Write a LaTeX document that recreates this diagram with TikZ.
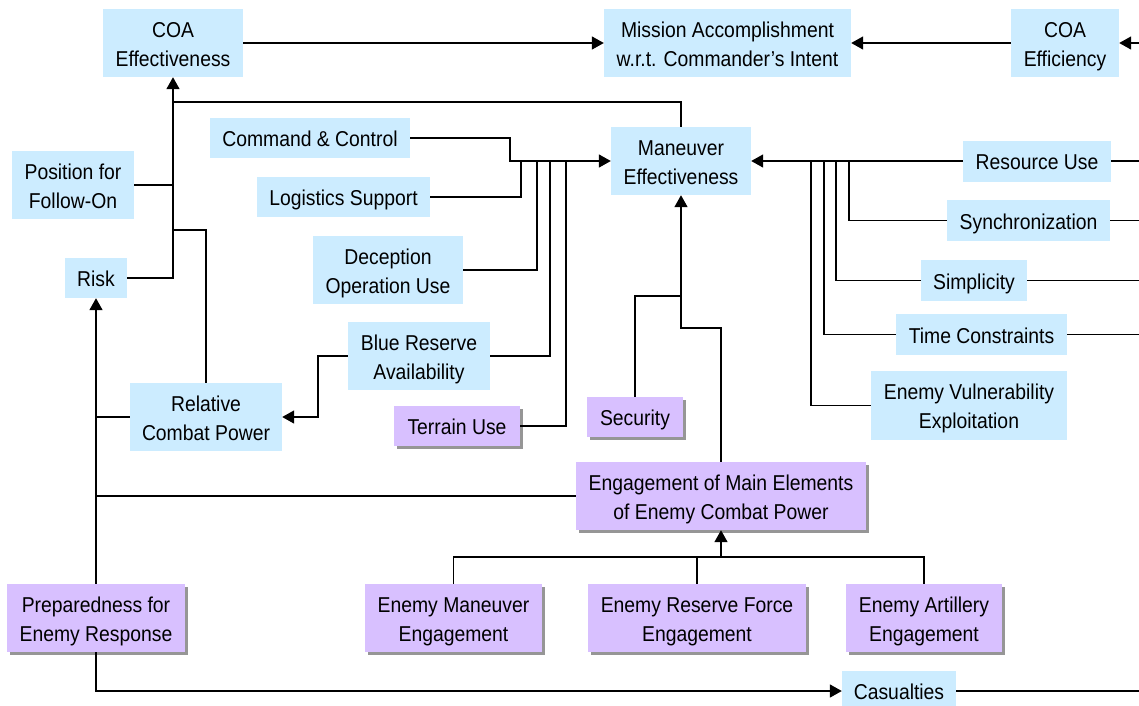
\documentclass[tikz,border=0pt]{standalone}
\usepackage{fontspec}
\setmainfont{Liberation Sans}[FakeStretch=0.9]
\usetikzlibrary{arrows.meta,calc}
\definecolor{bluefill}{RGB}{204,236,255}
\definecolor{purpfill}{RGB}{216,192,255}
\definecolor{shadowgray}{RGB}{150,150,150}
\tikzset{
  box/.style={inner sep=0pt, align=center, text depth=0pt,
    font=\fontsize{21.5}{29}\selectfont},
  one/.style={text height=17.5pt},
  two/.style={text height=46.5pt},
  bluebox/.style={box, fill=bluefill},
  purpbox/.style={box, fill=purpfill},
  shadowbox/.style={fill=shadowgray},
  conn/.style={line width=1.6pt, line join=miter},
  arr/.style={conn, -{Triangle[length=12pt,width=13pt]}},
}
\newcommand{\pbox}[7]{% name, x, y, w, h, lines style, text
  \fill[shadowbox] (#2-#4/2+3,#3-#5/2+3) rectangle (#2+#4/2+3,#3+#5/2+3);
  \node[purpbox, #6, minimum width=#4pt, minimum height=#5pt] (#1) at (#2,#3) {#7};
}
\begin{document}
\begin{tikzpicture}[x=1pt,y=-1pt]
\useasboundingbox (0,0) rectangle (1139,705);
% blue nodes
\node[bluebox, two, minimum width=140pt, minimum height=68pt] (coaeff) at (173,43) {COA\\Effectiveness};
\node[bluebox, two, minimum width=247pt, minimum height=68pt] (mission) at (727.5,43) {Mission Accomplishment\\w.r.t. Commander’s Intent};
\node[bluebox, two, minimum width=108pt, minimum height=68pt] (coaeffi) at (1065,43) {COA\\Efficiency};
\node[bluebox, one, minimum width=200pt, minimum height=40pt] (cc) at (310,138) {Command \& Control};
\node[bluebox, one, minimum width=173pt, minimum height=40pt] (log) at (343.5,197) {Logistics Support};
\node[bluebox, two, minimum width=150pt, minimum height=68pt] (dec) at (388,270) {Deception\\Operation Use};
\node[bluebox, two, minimum width=122pt, minimum height=68pt] (pos) at (73,185) {Position for\\Follow-On};
\node[bluebox, one, minimum width=62pt, minimum height=40pt] (risk) at (96,278) {Risk};
\node[bluebox, two, minimum width=140pt, minimum height=68pt] (man) at (681,161) {Maneuver\\Effectiveness};
\node[bluebox, one, minimum width=148pt, minimum height=41pt] (res) at (1037,161) {Resource Use};
\node[bluebox, one, minimum width=163pt, minimum height=41pt] (sync) at (1028.5,220.5) {Synchronization};
\node[bluebox, one, minimum width=106pt, minimum height=41pt] (simp) at (974,280.5) {Simplicity};
\node[bluebox, one, minimum width=171pt, minimum height=41pt] (time) at (981.5,334.5) {Time Constraints};
\node[bluebox, two, minimum width=196pt, minimum height=69pt] (vuln) at (969,405.5) {Enemy Vulnerability\\Exploitation};
\node[bluebox, two, minimum width=142pt, minimum height=68pt] (blue) at (419,356) {Blue Reserve\\Availability};
\node[bluebox, two, minimum width=152pt, minimum height=68pt] (rcp) at (206,417) {Relative\\Combat Power};
\node[bluebox, one, minimum width=114pt, minimum height=40pt] (cas) at (899,691) {Casualties};
% purple nodes with shadow
\pbox{terrain}{457}{426}{126}{40}{one}{Terrain Use}
\pbox{security}{635}{417}{96}{40}{one}{Security}
\pbox{emain}{721}{496}{290}{68}{two}{Engagement of Main Elements\\of Enemy Combat Power}
\pbox{prep}{96}{618}{178}{68}{two}{Preparedness for\\Enemy Response}
\pbox{eman}{453.5}{618}{177}{68}{two}{Enemy Maneuver\\Engagement}
\pbox{eres}{697}{618}{218}{68}{two}{Enemy Reserve Force\\Engagement}
\pbox{eart}{924}{618}{156}{68}{two}{Enemy Artillery\\Engagement}
% junction coordinates
\coordinate (eR) at (1139,43);
\coordinate (jtop) at (173,102);
\coordinate (jrcp) at (173,230);
\coordinate (jcc) at (510,161);
\coordinate (jlog) at (521,161);
\coordinate (jdec) at (537,161);
\coordinate (jblue) at (550,161);
\coordinate (jter) at (566,161);
\coordinate (jsync) at (849,161);
\coordinate (jsimp) at (836,161);
\coordinate (jtime) at (824,161);
\coordinate (jvuln) at (811,161);
\coordinate (jm) at (681,328);
\coordinate (jsec) at (681,296);
\coordinate (jbot) at (721,557);
% top row
\draw[arr] (coaeff.east) -- (mission.west);
\draw[arr] (coaeffi.west) -- (mission.east);
\draw[arr] (eR) -- (coaeffi.east);
% left trunk to COA effectiveness
\draw[arr] (risk.east) -- (risk.east -| coaeff.south) -- (coaeff.south);
\draw[conn] (pos.east) -- (pos.east -| coaeff.south);
\draw[conn] (rcp.north) |- (jrcp);
\draw[conn] (man.north) |- (jtop);
% second trunk to risk
\draw[arr] (prep.north) -- (risk.south);
\draw[conn] (rcp.west) -- (rcp.west -| risk.south);
\draw[conn] (emain.west) -- (emain.west -| risk.south);
\draw[arr] (prep.south) |- (cas.west);
\draw[conn] (cas.east) -- (cas.east -| eR);
% maneuver left inputs
\draw[arr] (cc.east) -| (jcc) -- (man.west);
\draw[conn] (log.east) -| (jlog);
\draw[conn] (dec.east) -| (jdec);
\draw[conn] (blue.east) -| (jblue);
\draw[conn] (terrain.east) -| (jter);
\draw[arr] (blue.west) -- ++(-30,0) |- (rcp.east);
% maneuver right inputs
\draw[arr] (res.west) -- (man.east);
\draw[conn] (sync.west) -| (jsync);
\draw[conn] (simp.west) -| (jsimp);
\draw[conn] (time.west) -| (jtime);
\draw[conn] (vuln.west) -| (jvuln);
\draw[conn] (res.east) -- (res.east -| eR);
\draw[conn] (sync.east) -- (sync.east -| eR);
\draw[conn] (simp.east) -- (simp.east -| eR);
\draw[conn] (time.east) -- (time.east -| eR);
% maneuver bottom inputs
\draw[arr] (emain.north) |- (jm) -- (man.south);
\draw[conn] (security.north) |- (jsec);
% engagement inputs
\draw[arr] (eman.north) |- (jbot) -- (emain.south);
\draw[conn] (eart.north) |- (jbot);
\draw[conn] (eres.north) -- (eres.north |- jbot);
\end{tikzpicture}
\end{document}
